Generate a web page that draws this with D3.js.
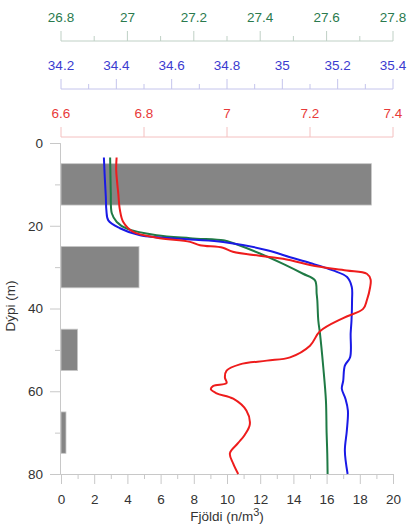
<!DOCTYPE html>
<html lang="en">
<head>
  <meta charset="UTF-8" />
  <title>Fjöldi og dýpi</title>
  <script src="https://d3js.org/d3.v7.min.js"></script>
  <style>
    body { margin: 0; background: #fff; font-family: Arial, "Liberation Sans", sans-serif; }
    svg { display: block; }
    .tick text { font-family: Arial, "Liberation Sans", sans-serif; }
  </style>
</head>
<body>
  <svg id="chart" width="407" height="524"></svg>
  <script>
    // ---- data ----
    // bars: depth band and count
    const barTop = [5, 25, 45, 65];
    const barBottom = [15, 35, 55, 75];
    const barCount = [18.7, 4.7, 1.0, 0.3];

    // salinity profile (blue)
    const salDepth = [3.5, 8, 13, 16.2, 18.7, 20.6, 22.3, 23.3, 23.9, 25.9, 27.6, 29, 30.8, 32.4, 34.8, 38, 42.9, 46, 51.8, 53.8, 57.5, 59.4, 61.8, 64.7, 69.6, 74.4, 80];
    const salValue = [34.355, 34.358, 34.362, 34.364, 34.371, 34.413, 34.486, 34.666, 34.786, 34.945, 35.028, 35.1, 35.183, 35.234, 35.251, 35.252, 35.25, 35.247, 35.245, 35.226, 35.22, 35.215, 35.228, 35.237, 35.233, 35.226, 35.236];

    // density profile (green)
    const denDepth = [3.5, 8, 12.1, 17, 19.1, 20.7, 22.3, 23, 23.5, 23.7, 26.7, 29.2, 31.6, 33.2, 36.4, 38, 42.9, 46, 54.2, 62.3, 70, 75, 80];
    const denValue = [26.948, 26.949, 26.95, 26.953, 26.968, 26.998, 27.088, 27.189, 27.288, 27.299, 27.399, 27.469, 27.529, 27.565, 27.57, 27.572, 27.575, 27.58, 27.59, 27.598, 27.6, 27.602, 27.603];

    // temperature profile (red)
    const temDepth = [3.5, 6.5, 12.2, 16.2, 19.1, 21.5, 22.9, 23.9, 24.7, 25.3, 26.3, 28, 29.8, 30.8, 31.6, 33, 34.8, 38, 40.1, 42.3, 45.5, 49, 51.8, 52.6, 53.5, 55, 56.7, 58, 58.7, 59.5, 60.5, 61.8, 64.7, 68, 70.5, 72.5, 75, 77.5, 80];
    const temValue = [6.734, 6.733, 6.738, 6.742, 6.75, 6.774, 6.831, 6.911, 6.935, 6.99, 7.014, 7.135, 7.216, 7.288, 7.337, 7.346, 7.345, 7.337, 7.328, 7.28, 7.224, 7.2, 7.152, 7.096, 7.031, 6.999, 6.995, 6.999, 6.967, 6.961, 6.975, 7.015, 7.047, 7.055, 7.043, 7.027, 7.007, 7.015, 7.027];

    // axis tick labels
    const denTicks = [26.8, 27, 27.2, 27.4, 27.6, 27.8];
    const salTicks = [34.2, 34.4, 34.6, 34.8, 35, 35.2, 35.4];
    const temTicks = [6.6, 6.8, 7, 7.2, 7.4];
    const countTicks = [0, 2, 4, 6, 8, 10, 12, 14, 16, 18, 20];
    const depthTicks = [0, 20, 40, 60, 80];

    // ---- layout ----
    const svg = d3.select("#chart");
    const plotLeft = 61, plotRight = 393, plotTop = 143, plotBottom = 474;
    const fontSize = 13.5;

    const x = d3.scaleLinear().domain([0, 20]).range([plotLeft, plotRight]);
    const y = d3.scaleLinear().domain([0, 80]).range([plotTop, plotBottom]);
    const xDen = d3.scaleLinear().domain([26.8, 27.8]).range([plotLeft, plotRight]);
    const xSal = d3.scaleLinear().domain([34.2, 35.4]).range([plotLeft, plotRight]);
    const xTem = d3.scaleLinear().domain([6.6, 7.4]).range([plotLeft, plotRight]);

    const green = "#1f7a45", blue = "#1a1ae6", red = "#ee1c1c";

    // bars
    svg.append("g").selectAll("rect")
      .data(barCount)
      .join("rect")
      .attr("x", x(0))
      .attr("y", (d, i) => y(barTop[i]))
      .attr("width", d => x(d) - x(0))
      .attr("height", (d, i) => y(barBottom[i]) - y(barTop[i]))
      .attr("fill", "#858585")
      .attr("stroke", "#c8c8c8")
      .attr("stroke-width", 0.8);

    // helper for the three top axes
    function topAxis(scale, ticks, minorStep, yPos, textColor, lineColor) {
      const g = svg.append("g").attr("transform", `translate(0,${yPos})`);
      const [d0, d1] = scale.domain();
      const minor = d3.range(d0, d1 + 1e-9, minorStep).filter(v => !ticks.some(t => Math.abs(t - v) < 1e-6));
      g.append("line").attr("x1", scale(d0)).attr("x2", scale(d1))
        .attr("stroke", lineColor).attr("stroke-width", 1);
      g.selectAll(".maj").data(ticks).join("line").attr("class", "maj")
        .attr("x1", d => scale(d)).attr("x2", d => scale(d))
        .attr("y1", 0).attr("y2", -10)
        .attr("stroke", lineColor);
      g.selectAll(".min").data(minor).join("line").attr("class", "min")
        .attr("x1", d => scale(d)).attr("x2", d => scale(d))
        .attr("y1", 0).attr("y2", -5)
        .attr("stroke", lineColor);
      g.selectAll("text").data(ticks).join("text")
        .attr("x", d => scale(d))
        .attr("y", -19)
        .attr("text-anchor", "middle")
        .attr("fill", textColor)
        .attr("font-size", fontSize)
        .text(d => d);
    }
    topAxis(xDen, denTicks, 0.1, 41, "#2a7a4e", "#bfd0c5");
    topAxis(xSal, salTicks, 0.1, 89, "#3b3bd0", "#c4c4ec");
    topAxis(xTem, temTicks, 0.2, 137, "#e83a3a", "#f4c0c0");

    const axisGrey = "#c8c8c8";

    // left (depth) axis: minor ticks every 10 m, labels every 20 m
    svg.append("g").attr("transform", `translate(${plotLeft - 1},0)`)
      .call(d3.axisLeft(y).tickValues(d3.range(10, 81, 20)).tickSize(5).tickFormat(""))
      .call(g => g.selectAll("path, line").attr("stroke", axisGrey));
    svg.append("g").attr("transform", `translate(${plotLeft - 1},0)`)
      .call(d3.axisLeft(y).tickValues(depthTicks).tickSize(10).tickPadding(7))
      .call(g => g.selectAll("path, line").attr("stroke", axisGrey))
      .call(g => g.selectAll("text").attr("font-size", fontSize).attr("fill", "#333"));

    // bottom (count) axis: minor ticks every 1, labels every 2
    svg.append("g").attr("transform", `translate(0,${plotBottom})`)
      .call(d3.axisBottom(x).tickValues(d3.range(1, 20, 2)).tickSize(5).tickFormat(""))
      .call(g => g.selectAll("path, line").attr("stroke", axisGrey));
    svg.append("g").attr("transform", `translate(0,${plotBottom})`)
      .call(d3.axisBottom(x).tickValues(countTicks).tickSize(10).tickPadding(10))
      .call(g => g.selectAll("path, line").attr("stroke", axisGrey))
      .call(g => g.selectAll("text").attr("font-size", fontSize).attr("fill", "#333"));

    // profile lines
    const line = (scale) => d3.line()
      .x(d => scale(d[1]))
      .y(d => y(d[0]))
      .curve(d3.curveCatmullRom.alpha(0.5));

    const profiles = [
      { depth: denDepth, value: denValue, scale: xDen, color: green },
      { depth: salDepth, value: salValue, scale: xSal, color: blue },
      { depth: temDepth, value: temValue, scale: xTem, color: red }
    ];
    profiles.forEach(p => {
      svg.append("path")
        .datum(p.depth.map((d, i) => [d, p.value[i]]))
        .attr("d", line(p.scale))
        .attr("fill", "none")
        .attr("stroke", p.color)
        .attr("stroke-width", 2);
    });

    // axis titles
    const xt = svg.append("text")
      .attr("x", 227).attr("y", 521)
      .attr("text-anchor", "middle")
      .attr("font-size", fontSize).attr("fill", "#333");
    xt.append("tspan").text("Fjöldi (n/m");
    xt.append("tspan").attr("font-size", 11).attr("dy", -5).text("3");
    xt.append("tspan").attr("dy", 5).text(")");

    svg.append("text")
      .attr("transform", "translate(15,306) rotate(-90)")
      .attr("text-anchor", "middle")
      .attr("font-size", fontSize).attr("fill", "#333")
      .text("Dýpi (m)");
  </script>
</body>
</html>
